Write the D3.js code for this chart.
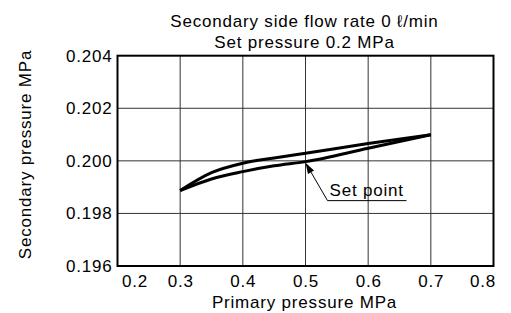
<!DOCTYPE html>
<html>
<head>
<meta charset="utf-8">
<script src="https://cdn.jsdelivr.net/npm/d3@7"></script>
<style>
  html, body { margin: 0; padding: 0; background: #fff; }
  svg { display: block; font-family: "Liberation Sans", Arial, sans-serif; }
  svg text { letter-spacing: 0.8px; }
</style>
</head>
<body>
<svg id="chart" width="511" height="313"></svg>
<script>
const titleLines = ["Secondary side flow rate 0 \u2113/min", "Set pressure 0.2 MPa"];
const xLabel = "Primary pressure MPa";
const yLabel = "Secondary pressure MPa";
const xTicks = [0.2, 0.3, 0.4, 0.5, 0.6, 0.7, 0.8];
const yTicks = [0.196, 0.198, 0.200, 0.202, 0.204];
const primary = [0.3, 0.35, 0.4, 0.45, 0.5, 0.6, 0.7];
const upperCurve = [0.19887, 0.19955, 0.19991, 0.20011, 0.20029, 0.20066, 0.20099];
const lowerCurve = [0.19887, 0.19931, 0.19959, 0.19981, 0.19997, 0.20048, 0.20099];
const setPoint = { x: 0.5, y: 0.19997, label: "Set point" };

const FS = 17;
const svg = d3.select("#chart");
const L = 117.5, R = 493.5, T = 55.7, B = 266;
const x = d3.scaleLinear().domain([0.2, 0.8]).range([L, R]);
const y = d3.scaleLinear().domain([0.196, 0.204]).range([B, T]);

// grid
const grid = svg.append("g");
grid.selectAll("line.v").data(xTicks.slice(1, -1)).join("line")
  .attr("x1", d => x(d)).attr("x2", d => x(d)).attr("y1", T).attr("y2", B)
  .attr("stroke", "#333").attr("stroke-width", 1);
grid.selectAll("line.h").data(yTicks.slice(1, -1)).join("line")
  .attr("x1", L).attr("x2", R).attr("y1", d => y(d)).attr("y2", d => y(d))
  .attr("stroke", "#333").attr("stroke-width", 1);

// frame
svg.append("rect").attr("x", L).attr("y", T).attr("width", R - L).attr("height", B - T)
  .attr("fill", "none").attr("stroke", "#000").attr("stroke-width", 2);

// axes
const xAxis = svg.append("g").attr("transform", `translate(0,${B})`)
  .call(d3.axisBottom(x).tickValues(xTicks).tickFormat(d3.format(".1f")).tickSize(0).tickPadding(9));
xAxis.select(".domain").remove();
xAxis.selectAll("text").attr("font-size", FS).attr("fill", "#000").attr("font-family", "Liberation Sans, Arial, sans-serif");
xAxis.selectAll(".tick").filter(d => d === xTicks[0]).select("text").attr("text-anchor", "start").attr("dx", 4);
xAxis.selectAll(".tick").filter(d => d === xTicks[xTicks.length - 1]).select("text").attr("text-anchor", "end").attr("dx", 2);

const yAxis = svg.append("g").attr("transform", `translate(${L},0)`)
  .call(d3.axisLeft(y).tickValues(yTicks).tickFormat(d3.format(".3f")).tickSize(0).tickPadding(5));
yAxis.select(".domain").remove();
yAxis.selectAll("text").attr("font-size", FS).attr("fill", "#000").attr("font-family", "Liberation Sans, Arial, sans-serif");

// curves
const line = d3.line().x(d => x(d[0])).y(d => y(d[1])).curve(d3.curveMonotoneX);
[upperCurve, lowerCurve].forEach(vals => {
  svg.append("path").datum(primary.map((p, i) => [p, vals[i]]))
    .attr("d", line).attr("fill", "none").attr("stroke", "#000")
    .attr("stroke-width", 3).attr("stroke-linejoin", "round");
});

// set point annotation
const tipX = x(setPoint.x), tipY = y(setPoint.y) + 1;
const elbow = [tipX + 22, tipY + 38];
const ang = Math.atan2(elbow[1] - tipY, elbow[0] - tipX);
const ah = 11, aw = 3.5;
const bx = tipX + ah * Math.cos(ang), by = tipY + ah * Math.sin(ang);
svg.append("path")
  .attr("d", `M${tipX},${tipY}L${bx - aw * Math.sin(ang)},${by + aw * Math.cos(ang)}L${bx + aw * Math.sin(ang)},${by - aw * Math.cos(ang)}Z`)
  .attr("fill", "#000");
svg.append("polyline")
  .attr("points", `${bx},${by} ${elbow[0]},${elbow[1]} ${elbow[0] + 79},${elbow[1]}`)
  .attr("fill", "none").attr("stroke", "#000").attr("stroke-width", 1);
svg.append("text").attr("x", elbow[0] + 2).attr("y", elbow[1] - 5)
  .attr("font-size", FS).text(setPoint.label);

// titles
svg.selectAll("text.title").data(titleLines).join("text")
  .attr("x", (L + R) / 2 - 1).attr("y", (d, i) => 26.5 + i * 21.5)
  .attr("text-anchor", "middle").attr("font-size", FS).text(d => d);

svg.append("text").attr("x", (L + R) / 2 - 1).attr("y", 307.5)
  .attr("text-anchor", "middle").attr("font-size", FS).text(xLabel);
svg.append("text").attr("transform", `translate(30.5,154.5) rotate(-90)`)
  .attr("text-anchor", "middle").attr("font-size", FS).text(yLabel);
</script>
</body>
</html>
